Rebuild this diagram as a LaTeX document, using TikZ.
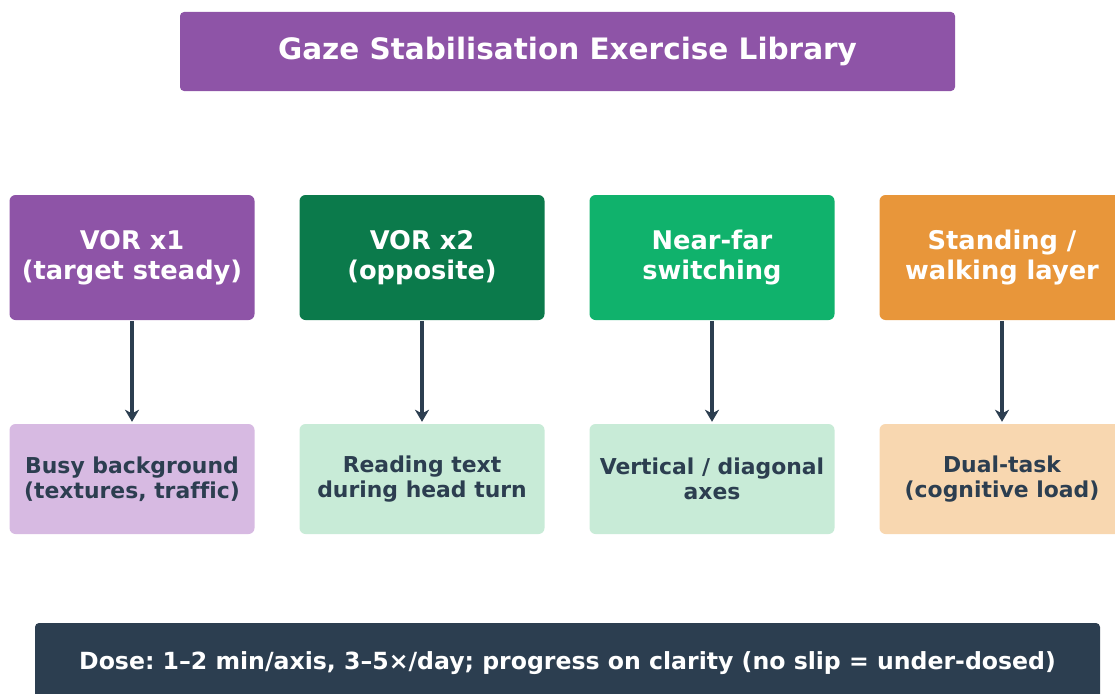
\documentclass[tikz,border=0pt]{standalone}
\usepackage{fontspec}
\setmainfont{DejaVu Sans}[Ligatures=NoCommon]
\usetikzlibrary{arrows.meta}
\frenchspacing

\definecolor{wisteria}{RGB}{142,84,167}
\definecolor{darkgreen}{RGB}{11,122,75}
\definecolor{brightgreen}{RGB}{16,178,108}
\definecolor{carrot}{RGB}{232,150,58}
\definecolor{lilac}{RGB}{215,186,226}
\definecolor{mint}{RGB}{200,235,215}
\definecolor{peach}{RGB}{248,215,176}
\definecolor{navy}{RGB}{44,62,80}

\tikzset{
  topbox/.style={rectangle,rounded corners=6pt,minimum width=245pt,minimum height=125pt,
    inner sep=0pt,align=center,text=white,font=\fontsize{25.7}{30.5}\selectfont\bfseries},
  subbox/.style={rectangle,rounded corners=6pt,minimum width=245pt,minimum height=110pt,
    inner sep=0pt,align=center,text=navy,font=\fontsize{21.9}{24.5}\selectfont\bfseries},
  flow/.style={draw=navy,line width=3.2pt,-{Stealth[length=12pt,width=14pt,inset=3.5pt]},shorten >=2pt,shorten <=1pt}
}

\begin{document}
\begin{tikzpicture}[x=1pt,y=-1pt]
\useasboundingbox (0,0) rectangle (1115,693);
\clip (0,0) rectangle (1115,693);
% title
\node[rectangle,rounded corners=4pt,fill=wisteria,minimum width=775pt,minimum height=79pt,
  text=white,font=\fontsize{29.5}{34}\selectfont\bfseries] (title) at (567.5,51.5) {Gaze Stabilisation Exercise Library};
% exercise levels
\node[topbox,fill=wisteria] (vorA) at (132,257.5) {VOR x1\\(target steady)};
\node[topbox,fill=darkgreen] (vorB) at (422,257.5) {VOR x2\\(opposite)};
\node[topbox,fill=brightgreen] (nearfar) at (712,257.5) {Near-far\\switching};
\node[topbox,fill=carrot] (stand) at (1002,257.5) {Standing /\\walking layer};
% progressions
\node[subbox,fill=lilac] (busy) at (132,479) {Busy background\\(textures, traffic)};
\node[subbox,fill=mint] (reading) at (422,479) {Reading text\\during head turn};
\node[subbox,fill=mint] (axes) at (712,479) {Vertical / diagonal\\axes};
\node[subbox,fill=peach] (dual) at (1002,479) {Dual-task\\(cognitive load)};
\draw[flow] (vorA) -- (busy);
\draw[flow] (vorB) -- (reading);
\draw[flow] (nearfar) -- (axes);
\draw[flow] (stand) -- (dual);
% dose bar
\node[rectangle,rounded corners=4pt,fill=navy,minimum width=1065pt,minimum height=80pt,
  text=white,font=\fontsize{23.6}{27}\selectfont\bfseries] (dose) at (567.5,663) {Dose: 1–2 min/axis, 3–5×/day; progress on clarity (no slip = under-dosed)};
\end{tikzpicture}
\end{document}
